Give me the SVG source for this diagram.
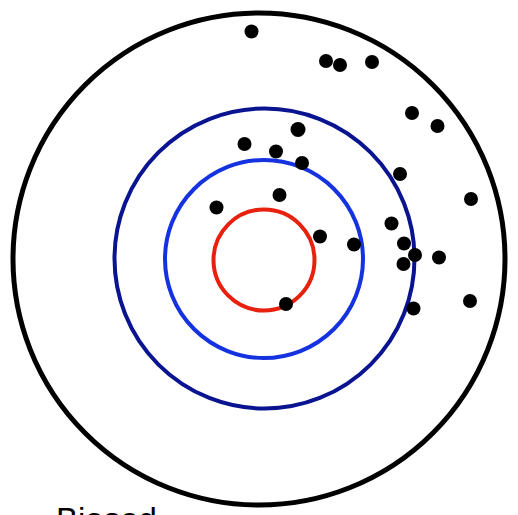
<svg xmlns="http://www.w3.org/2000/svg" width="518" height="515" viewBox="0 0 518 515">
<style>
.ring{fill:none}
.dot{fill:#000}
.lbl{font-family:"Liberation Sans",Arial,sans-serif;font-size:33px;fill:#000}
</style>
<rect width="518" height="515" fill="#fff"/>
<g id="rings">
<circle id="outer" class="ring" cx="259" cy="259" r="246" stroke="#000" stroke-width="5"/>
<circle id="navy" class="ring" cx="264.5" cy="258.5" r="150" stroke="#0a1490" stroke-width="4"/>
<circle id="blue" class="ring" cx="264" cy="259" r="99" stroke="#1432e0" stroke-width="4"/>
<circle id="red" class="ring" cx="264" cy="260" r="50.5" stroke="#e8200e" stroke-width="4"/>
</g>
<g id="dots" class="dot">
<circle cx="251.5" cy="31.5" r="7"/>
<circle cx="326" cy="61" r="7"/>
<circle cx="340" cy="65" r="7"/>
<circle cx="372" cy="62" r="7"/>
<circle cx="412" cy="113" r="7"/>
<circle cx="437.5" cy="126" r="7"/>
<circle cx="298" cy="129.5" r="7.5"/>
<circle cx="244.5" cy="144" r="7"/>
<circle cx="276" cy="151.5" r="7"/>
<circle cx="302" cy="163" r="7"/>
<circle cx="400" cy="174" r="7"/>
<circle cx="471" cy="199" r="7"/>
<circle cx="279.5" cy="195" r="7"/>
<circle cx="216.5" cy="207.5" r="7"/>
<circle cx="391.5" cy="223.5" r="7"/>
<circle cx="320" cy="236.5" r="7"/>
<circle cx="354" cy="244.5" r="7"/>
<circle cx="404" cy="243.5" r="7"/>
<circle cx="415" cy="255" r="7"/>
<circle cx="403.5" cy="264" r="7"/>
<circle cx="439" cy="257.5" r="7"/>
<circle cx="470" cy="301" r="7"/>
<circle cx="413.5" cy="308.5" r="7"/>
<circle cx="286" cy="304" r="7"/>
</g>
<text class="lbl" x="56" y="531">Biased</text>
</svg>
